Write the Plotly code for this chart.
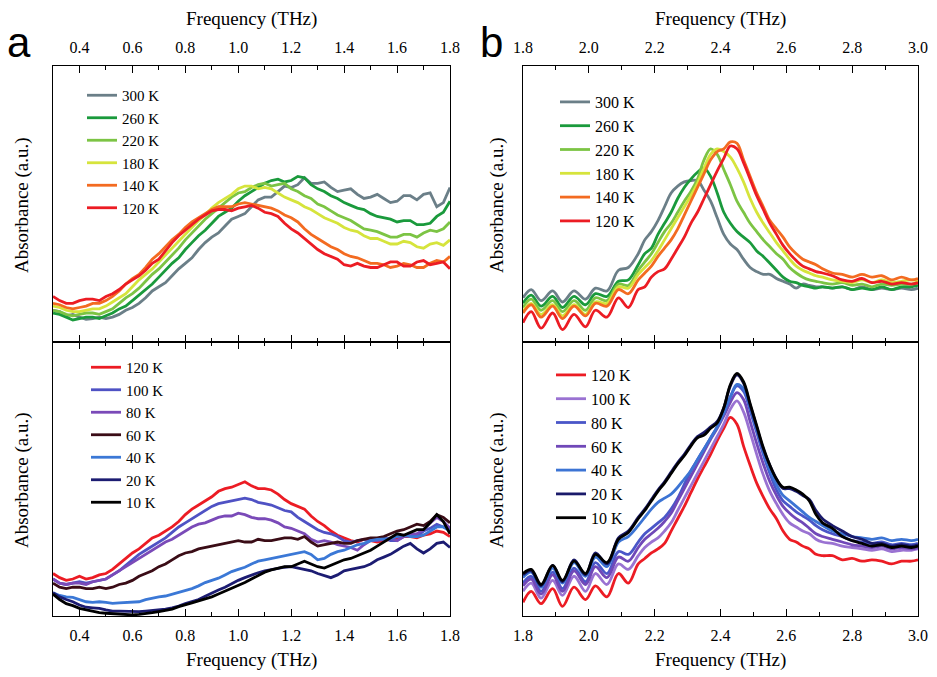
import plotly.graph_objects as go

# ---------------- data ----------------
freq_a = [0.300, 0.325, 0.350, 0.375, 0.400, 0.425, 0.450, 0.475, 0.500, 0.525, 0.550, 0.575,
          0.600, 0.625, 0.650, 0.675, 0.700, 0.725, 0.750, 0.775, 0.800, 0.825, 0.850, 0.875,
          0.900, 0.925, 0.950, 0.975, 1.000, 1.025, 1.050, 1.075, 1.100, 1.125, 1.150, 1.175,
          1.200, 1.225, 1.250, 1.275, 1.300, 1.325, 1.350, 1.375, 1.400, 1.425, 1.450, 1.475,
          1.500, 1.525, 1.550, 1.575, 1.600, 1.625, 1.650, 1.675, 1.700, 1.725, 1.750, 1.775, 1.800]

a_hi_300K = [.115, .11, .095, .10, .09, .082, .085, .09, .085, .09, .10, .115, .125, .14, .16, .185,
             .20, .215, .24, .265, .285, .305, .335, .36, .38, .395, .42, .445, .455, .465, .49, .515,
             .525, .525, .545, .565, .56, .57, .595, .575, .575, .58, .56, .545, .55, .555, .535, .52,
             .525, .535, .52, .505, .51, .53, .53, .515, .535, .54, .49, .505, .56]
a_hi_260K = [.105, .10, .09, .08, .085, .09, .09, .085, .095, .105, .12, .13, .15, .17, .19, .21,
             .235, .26, .285, .305, .335, .36, .385, .405, .43, .455, .47, .485, .51, .53, .545, .56,
             .575, .585, .59, .58, .585, .60, .595, .57, .555, .545, .53, .52, .505, .495, .485, .48,
             .465, .455, .45, .445, .435, .44, .44, .425, .425, .43, .455, .47, .51]
a_hi_220K = [.115, .11, .10, .095, .10, .105, .105, .10, .11, .12, .14, .16, .175, .195, .22, .245,
             .265, .29, .315, .34, .37, .395, .42, .445, .465, .485, .505, .525, .54, .545, .56, .57,
             .575, .565, .57, .575, .555, .545, .53, .52, .50, .49, .475, .46, .45, .44, .425, .41,
             .405, .40, .39, .38, .38, .39, .39, .38, .395, .405, .40, .41, .435]
a_hi_180K = [.13, .125, .115, .11, .11, .115, .12, .12, .13, .145, .16, .175, .20, .225, .245, .265,
             .29, .315, .34, .365, .39, .415, .44, .46, .485, .505, .52, .535, .555, .565, .565, .555,
             .56, .555, .54, .525, .515, .505, .49, .48, .465, .45, .44, .43, .415, .405, .40, .385,
             .375, .375, .365, .355, .355, .365, .36, .345, .34, .355, .36, .35, .37]
a_hi_140K = [.14, .135, .125, .12, .125, .13, .14, .14, .15, .165, .185, .21, .23, .245, .27, .30,
             .32, .345, .37, .39, .415, .435, .45, .465, .48, .49, .49, .49, .50, .505, .50, .495,
             .49, .485, .475, .46, .45, .435, .41, .39, .375, .36, .345, .335, .32, .31, .305, .295,
             .285, .285, .28, .27, .275, .285, .28, .27, .27, .285, .295, .29, .31]
a_hi_120K = [.165, .15, .14, .14, .15, .155, .155, .15, .165, .175, .19, .21, .225, .24, .26, .285,
             .30, .33, .36, .385, .405, .425, .445, .46, .475, .48, .48, .475, .485, .49, .495, .485,
             .47, .465, .455, .43, .41, .395, .375, .355, .335, .32, .31, .30, .28, .275, .285, .275,
             .27, .27, .28, .29, .29, .275, .275, .29, .295, .28, .285, .29, .265]

a_lo_120K = [.155, .14, .13, .135, .145, .135, .14, .15, .155, .17, .19, .21, .23, .245, .265, .285,
             .295, .31, .325, .345, .37, .39, .405, .42, .435, .455, .465, .47, .48, .49, .475, .465,
             .465, .46, .445, .425, .41, .40, .39, .365, .345, .33, .31, .295, .285, .275, .27, .28,
             .275, .27, .275, .28, .285, .29, .29, .285, .295, .30, .31, .305, .29]
a_lo_100K = [.135, .12, .115, .12, .125, .12, .125, .13, .135, .15, .165, .185, .205, .225, .24, .255,
             .27, .285, .305, .325, .34, .355, .37, .385, .40, .41, .415, .42, .425, .43, .425, .415,
             .41, .405, .395, .385, .38, .36, .345, .33, .315, .305, .30, .29, .275, .27, .275, .28,
             .28, .28, .285, .275, .275, .29, .295, .29, .31, .32, .335, .325, .315]
a_lo_80K = [.135, .12, .115, .12, .12, .115, .125, .13, .135, .15, .165, .18, .195, .21, .225, .24,
            .255, .27, .28, .295, .31, .325, .335, .34, .35, .36, .365, .365, .375, .37, .36, .355,
            .355, .35, .34, .325, .32, .31, .30, .28, .27, .275, .27, .26, .255, .25, .24, .26,
            .275, .275, .28, .285, .275, .29, .30, .30, .315, .34, .36, .345, .32]
a_lo_60K = [.12, .105, .10, .105, .105, .10, .10, .105, .10, .105, .115, .12, .13, .145, .155, .165,
            .18, .19, .205, .22, .23, .235, .245, .25, .255, .26, .265, .27, .275, .27, .27, .28,
            .275, .275, .28, .285, .285, .28, .29, .27, .255, .26, .265, .27, .265, .265, .275, .28,
            .285, .285, .29, .30, .31, .315, .325, .335, .33, .345, .37, .36, .34]
a_lo_40K = [.085, .075, .07, .068, .06, .052, .05, .052, .05, .046, .048, .05, .05, .052, .06, .066,
            .07, .073, .08, .088, .095, .10, .11, .122, .13, .138, .15, .162, .17, .178, .19, .20,
            .205, .21, .215, .222, .225, .23, .235, .225, .205, .21, .225, .235, .24, .25, .26, .265,
            .275, .28, .28, .282, .29, .295, .29, .29, .295, .31, .325, .325, .31]
a_lo_20K = [.085, .07, .06, .052, .04, .032, .03, .028, .022, .018, .018, .017, .016, .016, .018, .02,
            .022, .025, .03, .036, .045, .052, .06, .072, .085, .095, .105, .118, .13, .14, .15, .158,
            .165, .17, .175, .178, .18, .175, .17, .165, .155, .148, .14, .15, .165, .17, .175, .18,
            .19, .205, .215, .225, .24, .255, .265, .245, .23, .245, .265, .27, .25]
a_lo_10K = [.08, .06, .045, .038, .028, .022, .018, .012, .01, .008, .006, .005, .004, .006, .008, .012,
            .016, .02, .025, .034, .04, .048, .055, .062, .07, .08, .09, .10, .11, .122, .135, .148,
            .16, .168, .175, .18, .18, .19, .20, .19, .18, .175, .185, .195, .205, .21, .22, .23,
            .24, .255, .27, .285, .30, .295, .305, .315, .315, .34, .37, .345, .30]

freq_b = [1.80, 1.825, 1.855, 1.89, 1.92, 1.955, 1.99, 2.02, 2.055, 2.09, 2.12, 2.15,
          2.17, 2.19, 2.21, 2.23, 2.25, 2.27, 2.29, 2.31, 2.33, 2.35, 2.37, 2.39, 2.41, 2.43,
          2.45, 2.47, 2.49, 2.51, 2.53, 2.55, 2.57, 2.59, 2.61, 2.63, 2.65, 2.67, 2.69, 2.71,
          2.74, 2.77, 2.80, 2.83, 2.86, 2.89, 2.92, 2.95, 2.98, 3.00]

b_hi_300K = [.16, .19, .15, .185, .145, .185, .155, .195, .185, .26, .27, .32,
             .37, .40, .44, .49, .54, .565, .58, .585, .585, .55, .51, .45, .39, .355,
             .335, .30, .27, .255, .245, .245, .23, .22, .21, .195, .21, .205, .20, .20,
             .195, .20, .19, .20, .19, .195, .19, .195, .19, .195]
b_hi_260K = [.14, .17, .13, .165, .125, .165, .135, .175, .165, .22, .225, .28,
             .32, .34, .39, .43, .47, .52, .56, .59, .615, .63, .60, .54, .47, .43,
             .40, .38, .36, .33, .31, .285, .26, .235, .22, .215, .205, .20, .195, .20,
             .195, .20, .19, .195, .19, .20, .19, .20, .20, .205]
b_hi_220K = [.125, .155, .115, .15, .11, .15, .115, .16, .15, .21, .205, .26,
             .29, .32, .36, .40, .43, .47, .51, .545, .59, .66, .70, .68, .625, .57,
             .51, .47, .43, .40, .37, .345, .32, .30, .27, .25, .235, .225, .22, .215,
             .21, .215, .205, .21, .20, .21, .205, .21, .21, .215]
b_hi_180K = [.11, .14, .10, .135, .095, .135, .10, .145, .14, .20, .195, .245,
             .27, .295, .33, .37, .41, .45, .49, .53, .575, .63, .68, .70, .69, .67,
             .63, .58, .52, .47, .43, .395, .36, .33, .30, .275, .26, .25, .24, .235,
             .225, .22, .215, .225, .215, .225, .215, .22, .225, .22]
b_hi_140K = [.105, .135, .09, .13, .085, .13, .095, .14, .13, .19, .175, .225,
             .25, .275, .31, .34, .37, .41, .46, .51, .56, .61, .66, .69, .70, .725,
             .72, .66, .60, .54, .49, .44, .41, .38, .345, .32, .30, .29, .28, .265,
             .25, .245, .235, .245, .235, .24, .225, .235, .225, .23]
b_hi_120K = [.07, .11, .05, .105, .045, .10, .055, .115, .09, .16, .125, .19,
             .20, .235, .255, .265, .30, .34, .38, .43, .47, .52, .57, .62, .665, .71,
             .70, .65, .59, .53, .48, .43, .39, .35, .32, .295, .275, .265, .255, .25,
             .24, .225, .22, .23, .215, .22, .21, .215, .21, .215]

b_lo_120K = [.05, .09, .045, .10, .035, .105, .06, .11, .07, .155, .12, .19,
             .21, .23, .245, .265, .31, .355, .40, .45, .50, .545, .59, .64, .685, .725,
             .70, .62, .55, .485, .435, .39, .355, .31, .28, .27, .255, .245, .225, .22,
             .22, .205, .21, .20, .205, .20, .19, .20, .20, .205]
b_lo_100K = [.09, .12, .065, .13, .075, .145, .09, .155, .115, .19, .17, .22,
             .25, .27, .285, .31, .34, .385, .43, .475, .52, .565, .61, .655, .70, .755,
             .785, .745, .67, .59, .515, .455, .41, .37, .34, .325, .31, .30, .28, .27,
             .265, .255, .25, .245, .24, .245, .235, .24, .24, .245]
b_lo_80K = [.12, .145, .09, .16, .10, .175, .125, .195, .155, .235, .225, .27,
            .30, .32, .34, .36, .39, .43, .48, .53, .57, .61, .65, .69, .74, .80,
            .84, .82, .75, .67, .59, .52, .46, .42, .40, .38, .365, .35, .33, .315,
            .30, .29, .275, .27, .265, .27, .26, .265, .26, .265]
b_lo_60K = [.11, .135, .08, .15, .09, .165, .115, .18, .14, .215, .20, .25,
            .28, .30, .32, .345, .375, .42, .465, .51, .555, .60, .645, .685, .73, .78,
            .815, .79, .71, .63, .555, .49, .44, .40, .375, .355, .34, .32, .30, .29,
            .28, .27, .26, .255, .25, .255, .245, .25, .245, .25]
b_lo_40K = [.14, .16, .105, .175, .12, .195, .145, .215, .18, .27, .29, .33,
            .36, .39, .415, .43, .445, .47, .50, .53, .57, .61, .65, .69, .74, .80,
            .845, .83, .76, .68, .60, .53, .48, .44, .42, .40, .38, .36, .345, .33,
            .31, .30, .29, .285, .28, .285, .275, .28, .275, .28]
b_lo_20K = [.15, .165, .11, .185, .125, .205, .15, .23, .19, .285, .31, .36,
            .39, .425, .46, .49, .525, .56, .59, .625, .655, .67, .69, .71, .76, .84,
            .88, .85, .77, .69, .61, .55, .50, .465, .465, .455, .44, .425, .385, .355,
            .33, .31, .29, .28, .265, .265, .255, .26, .255, .26]
b_lo_10K = [.155, .17, .115, .185, .13, .20, .155, .225, .195, .28, .305, .355,
            .385, .42, .455, .485, .52, .555, .585, .62, .65, .66, .685, .705, .76, .845,
            .885, .855, .775, .695, .615, .55, .50, .47, .47, .46, .445, .42, .37, .34,
            .32, .29, .275, .265, .255, .26, .25, .255, .25, .255]

labels_hi = ["300 K", "260 K", "220 K", "180 K", "140 K", "120 K"]
labels_lo = ["120 K", "100 K", "80 K", "60 K", "40 K", "20 K", "10 K"]

colors_hi = ["#6b7f88", "#1a9a3c", "#7cc444", "#d6e43c", "#f36b21", "#ec1c24"]
colors_a_lo = ["#ec1c24", "#4f52c4", "#7a4ab8", "#3a0c16", "#3b78d6", "#1c1c72", "#000000"]
colors_b_lo = ["#ec1c24", "#9a72d2", "#4a56c8", "#7048b8", "#3c74d4", "#1a1a6a", "#000000"]

a_hi = [a_hi_300K, a_hi_260K, a_hi_220K, a_hi_180K, a_hi_140K, a_hi_120K]
a_lo = [a_lo_120K, a_lo_100K, a_lo_80K, a_lo_60K, a_lo_40K, a_lo_20K, a_lo_10K]
b_hi = [b_hi_300K, b_hi_260K, b_hi_220K, b_hi_180K, b_hi_140K, b_hi_120K]
b_lo = [b_lo_120K, b_lo_100K, b_lo_80K, b_lo_60K, b_lo_40K, b_lo_20K, b_lo_10K]

x_title = "Frequency (THz)"
y_title = "Absorbance (a.u.)"

# ---------------- figure ----------------
SERIF = "Times New Roman"
SANS = "Liberation Sans"
fig = go.Figure()

def add_group(xs, ys_list, labels, colors, xa, ya, legend, shape):
    for ys, lab, col in zip(ys_list, labels, colors):
        fig.add_trace(go.Scatter(x=xs, y=ys, name=lab, mode="lines",
                                 line=dict(color=col, width=2.8, shape=shape),
                                 xaxis=xa, yaxis=ya, legend=legend))

add_group(freq_a, a_hi, labels_hi, colors_hi, "x", "y", "legend", "linear")
add_group(freq_a, a_lo, labels_lo, colors_a_lo, "x2", "y2", "legend2", "linear")
add_group(freq_b, b_hi, labels_hi, colors_hi, "x3", "y3", "legend3", "spline")
add_group(freq_b, b_lo, labels_lo, colors_b_lo, "x4", "y4", "legend4", "spline")

W, H = 937, 677
OFF = 8  # page body margin
def px(v):
    return (v - OFF) / W
def py(v):
    return 1 - (v - OFF) / H

xa_dom = [px(53), px(450)]
xb_dom = [px(523), px(918)]
top_dom = [py(342), py(66)]
bot_dom = [py(616), py(342)]

tickfont = dict(family=SERIF, size=16, color="black")
titlefont = dict(family=SERIF, size=19, color="black")

def xaxis(dom, anchor, rng, dtick, side, standoff):
    return dict(domain=dom, anchor=anchor, range=rng, side=side, automargin=False,
                showline=True, linecolor="black", linewidth=1.3, mirror="ticks",
                ticks="inside", ticklen=7, tickwidth=1.3, tickcolor="black",
                dtick=dtick, tick0=0, tickformat=".1f", tickfont=tickfont,
                ticklabelstandoff=standoff,
                minor=dict(ticks="inside", ticklen=4, tickwidth=1.2, tickcolor="black", dtick=dtick / 2),
                showgrid=False, zeroline=False)

def yaxis(dom, anchor):
    return dict(domain=dom, anchor=anchor, range=[0, 1], automargin=False,
                showline=True, linecolor="black", linewidth=1.3, mirror=True,
                showticklabels=False, ticks="", showgrid=False, zeroline=False)

def legend(xp, yp, size):
    return dict(x=px(xp), y=py(yp), xanchor="left", yanchor="top",
                bgcolor="rgba(0,0,0,0)", borderwidth=0,
                font=dict(family=SERIF, size=size, color="black"),
                tracegroupgap=0, itemclick=False)

def title_ann(text, xp, yp, angle=0):
    return dict(text=text, x=px(xp), y=py(yp), xref="paper", yref="paper", showarrow=False,
                xanchor="center", yanchor="middle", textangle=angle, font=titlefont)

annotations = [
    title_ann(x_title, 251.5, 19),
    title_ann(x_title, 720.5, 19),
    title_ann(x_title, 251.5, 660),
    title_ann(x_title, 720.5, 660),
    title_ann(y_title, 22, 205, -90),
    title_ann(y_title, 22, 480, -90),
    title_ann(y_title, 497, 205, -90),
    title_ann(y_title, 497, 480, -90),
    dict(text="a", x=px(19), y=py(68), xref="paper", yref="paper", showarrow=False,
         xanchor="center", yanchor="bottom", font=dict(family=SANS, size=42, color="black")),
    dict(text="b", x=px(491), y=py(68), xref="paper", yref="paper", showarrow=False,
         xanchor="center", yanchor="bottom", font=dict(family=SANS, size=42, color="black")),
]

fig.update_layout(
    width=W, height=H, margin=dict(l=0, r=0, t=0, b=0),
    paper_bgcolor="white", plot_bgcolor="white",
    xaxis=xaxis(xa_dom, "y", [0.3, 1.8], 0.2, "top", 5),
    xaxis2=xaxis(xa_dom, "y2", [0.3, 1.8], 0.2, "bottom", 5),
    xaxis3=xaxis(xb_dom, "y3", [1.8, 3.0], 0.2, "top", 5),
    xaxis4=xaxis(xb_dom, "y4", [1.8, 3.0], 0.2, "bottom", 5),
    yaxis=yaxis(top_dom, "x"),
    yaxis2=yaxis(bot_dom, "x2"),
    yaxis3=yaxis(top_dom, "x3"),
    yaxis4=yaxis(bot_dom, "x4"),
    legend=legend(82, 79, 15),
    legend2=legend(86, 351, 15),
    legend3=legend(555, 85, 16),
    legend4=legend(551, 358, 16),
    showlegend=True,
    annotations=annotations,
)

fig.write_html("out.html")
